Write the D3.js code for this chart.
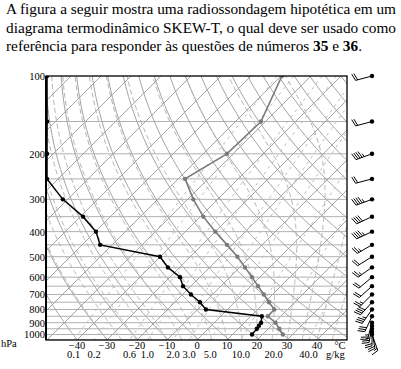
<!DOCTYPE html>
<html><head><meta charset="utf-8">
<script src="https://cdn.jsdelivr.net/npm/d3@7"></script>
<style>
body{margin:0;background:#fff}
svg{display:block}
svg text{font-family:"Liberation Serif","Times New Roman",serif}
</style>
</head><body>
<svg id="c" width="401" height="369"></svg>
<script>
// ---------------- data ----------------
const headerLines = [
  "A figura a seguir mostra uma radiossondagem hipotética em um",
  "diagrama termodinâmico SKEW-T, o qual deve ser usado como"
];
const pressureLevels = [100,150,200,250,300,350,400,450,500,550,600,650,700,750,800,850,900,925,950,1000];
const temperature   = [-59.7,-51.5,-52.1,-57.7,-48.1,-39.0,-30.0,-21.7,-14.3,-8.2,-2.6,2.4,7.1,11.4,15.6,15.7,20.4,null,23.7,26.8];
const dewpoint      = [-138,-122.8,-112.1,-103.7,-91.6,-79.1,-69.8,-64.0,-40.1,-33.9,-26.6,-22.6,-17.2,-11.6,-7.2,13.7,15.6,15.9,16.2,16.5];
const windLevels    = [100,150,200,250,300,350,400,450,500,550,600,650,700,750,800,850,900,925,950,975,1000];
const windDir       = [255,255,250,255,250,245,245,240,238,235,230,228,225,222,215,205,195,190,180,170,160];
const windSpeed     = [20,20,45,20,45,40,45,25,20,25,20,20,25,40,35,30,25,25,20,20,15];
const pressureTicks = [100,200,300,400,500,600,700,800,900,1000];
const tempTicks     = [-40,-30,-20,-10,0,10,20,30,40];
const mixingTicks   = [0.1,0.2,0.6,1.0,2.0,3.0,5.0,10.0,20.0,40.0];
const dryThetas     = d3.range(220, 520, 10);
const moistStarts   = d3.range(-30, 46, 5);

// ---------------- geometry ----------------
const svg = d3.select("#c");
const L = 46, R = 347, T = 76, B = 340;
const y = d3.scaleLog().domain([100, 1050]).range([T, B]);
const xBase = d3.scaleLinear().domain([-40, 40]).range([77, 317]);
const skew = 1;
const X = (t, p) => xBase(t) + skew * (B - y(p));

// header
const hdr = svg.append("g").attr("font-size", 15.3).attr("fill", "#000");
headerLines.forEach((s, i) => {
  hdr.append("text").attr("x", 6).attr("y", 14 + i * 18.5)
    .attr("textLength", 390).attr("lengthAdjust", "spacing").text(s);
});
const l3 = hdr.append("text").attr("x", 6).attr("y", 51);
l3.append("tspan").text("referência para responder às questões de números ");
l3.append("tspan").attr("font-weight", "bold").text("35");
l3.append("tspan").text(" e ");
l3.append("tspan").attr("font-weight", "bold").text("36");
l3.append("tspan").text(".");

svg.append("clipPath").attr("id", "plot").append("rect")
  .attr("x", L).attr("y", T).attr("width", R - L).attr("height", B - T);
const grid = svg.append("g").attr("clip-path", "url(#plot)").attr("fill", "none");

const pGrid = d3.range(100, 1051, 10);
const line = d3.line().x(d => X(d.t, d.p)).y(d => y(d.p));

// isobars
grid.selectAll(".isobar").data(d3.range(150, 1051, 50)).join("line")
  .attr("x1", L).attr("x2", R).attr("y1", d => y(d)).attr("y2", d => y(d))
  .attr("stroke", "#b0b0b0").attr("stroke-width", 1);

// isotherms
grid.selectAll(".isotherm").data(d3.range(-180, 60, 10)).join("path")
  .attr("d", t => line([{t, p: 1050}, {t, p: 100}]))
  .attr("stroke", "#a4a4a4").attr("stroke-width", 1);

// dry adiabats
grid.selectAll(".dry").data(dryThetas).join("path")
  .attr("d", th => line(pGrid.map(p => ({p, t: th * Math.pow(p / 1000, 0.2857) - 273.15}))))
  .attr("stroke", "#a4a4a4").attr("stroke-width", 1);

// moist adiabats
const Rd = 287.04, cp = 1005.7, Lv = 2.501e6;
function es(tc) { return 6.112 * Math.exp(17.67 * tc / (tc + 243.5)); }
function dTdp(p, Tk) {
  const e = es(Tk - 273.15), rs = 0.622 * e / (p - e);
  return (Rd * Tk + Lv * rs) / (p * (cp + Lv * Lv * rs * 0.622 / (Rd * Tk * Tk)));
}
function moist(t0) {
  const pts = [];
  let Tk = t0 + 273.15, p = 1050;
  const dp = -5;
  while (p >= 100) {
    pts.push({p, t: Tk - 273.15});
    const k1 = dTdp(p, Tk), k2 = dTdp(p + dp / 2, Tk + k1 * dp / 2),
          k3 = dTdp(p + dp / 2, Tk + k2 * dp / 2), k4 = dTdp(p + dp, Tk + k3 * dp);
    Tk += dp * (k1 + 2 * k2 + 2 * k3 + k4) / 6;
    p += dp;
  }
  return pts;
}
grid.selectAll(".moist").data(moistStarts).join("path")
  .attr("d", t0 => line(moist(t0)))
  .attr("stroke", "#b4b4b4").attr("stroke-width", 1).attr("stroke-dasharray", "5,3");

// mixing ratio lines
function tdOf(w, p) {
  const e = (w / 1000) * p / (0.622 + w / 1000);
  const lg = Math.log(e / 6.112);
  return 243.5 * lg / (17.67 - lg);
}
grid.selectAll(".mix").data(mixingTicks).join("path")
  .attr("d", w => line(pGrid.map(p => ({p, t: tdOf(w, p)}))))
  .attr("stroke", "#bdbdbd").attr("stroke-width", 1).attr("stroke-dasharray", "3,4");

// sounding
const tempPts = pressureLevels.map((p, i) => ({p, t: temperature[i]})).filter(d => d.t !== null);
const dewPts = pressureLevels.map((p, i) => ({p, t: dewpoint[i]}));
const snd = svg.append("g").attr("clip-path", "url(#plot)");
snd.append("path").attr("d", line(tempPts)).attr("fill", "none").attr("stroke", "#7a7a7a").attr("stroke-width", 1.6);
snd.selectAll(".tp").data(tempPts).join("circle")
  .attr("cx", d => X(d.t, d.p)).attr("cy", d => y(d.p)).attr("r", 2.2).attr("fill", "#7a7a7a");
const dewX = d => Math.max(L + 1, X(d.t, d.p));
snd.append("path").attr("d", d3.line().x(dewX).y(d => y(d.p))(dewPts))
  .attr("fill", "none").attr("stroke", "#000").attr("stroke-width", 1.5);
snd.selectAll(".dp").data(dewPts).join("circle")
  .attr("cx", dewX).attr("cy", d => y(d.p)).attr("r", 2.2).attr("fill", "#000");

// frame
svg.append("rect").attr("x", L).attr("y", T).attr("width", R - L).attr("height", B - T)
  .attr("fill", "none").attr("stroke", "#000").attr("stroke-width", 1.3);
svg.append("line").attr("x1", L).attr("x2", L).attr("y1", T).attr("y2", B).attr("stroke", "#000").attr("stroke-width", 2);

// pressure axis
const pa = svg.append("g").attr("transform", `translate(${L},0)`)
  .call(d3.axisLeft(y).tickValues(pressureTicks).tickSize(0).tickPadding(1).tickFormat(d3.format("d")));
pa.select(".domain").remove();
pa.attr("font-family", null);
pa.selectAll("text").attr("font-size", 10.5).attr("fill", "#000");

// bottom labels
const lab = svg.append("g").attr("font-size", 10.5).attr("fill", "#000");
lab.append("text").attr("x", 1).attr("y", 347).text("hPa");
lab.selectAll(".tt").data(tempTicks).join("text")
  .attr("x", d => xBase(d)).attr("y", 348.5).attr("text-anchor", "middle")
  .text(d => d < 0 ? "\u2212" + Math.abs(d) : String(d));
lab.append("text").attr("x", 340).attr("y", 348.5).attr("text-anchor", "middle").text("°C");
lab.selectAll(".mt").data(mixingTicks).join("text")
  .attr("x", w => X(tdOf(w, 1050), 1050)).attr("y", 357.5).attr("text-anchor", "middle")
  .text(w => w.toFixed(1));
lab.append("text").attr("x", 326).attr("y", 357.5).text("g/kg");

// wind barbs
const wb = svg.append("g").attr("stroke", "#000").attr("stroke-width", 1).attr("fill", "#000");
function barb(cx, cy, dir, spd) {
  const a = dir * Math.PI / 180;
  const ux = Math.sin(a), uy = -Math.cos(a);
  const px = -uy, py = ux;
  const len = 17, bl = 7, sp = 2.2, lean = 0.3;
  wb.append("line").attr("x1", cx).attr("y1", cy).attr("x2", cx + ux * len).attr("y2", cy + uy * len);
  let s = Math.round(spd / 5) * 5, pos = len;
  while (s >= 50) {
    const b0 = pos, b1 = pos - 2 * sp;
    const pts = [[cx + ux * b0, cy + uy * b0], [cx + ux * b0 + px * bl, cy + uy * b0 + py * bl], [cx + ux * b1, cy + uy * b1]];
    wb.append("polygon").attr("points", pts.map(q => q.join(",")).join(" "));
    pos -= 2 * sp + 1; s -= 50;
  }
  while (s >= 10) {
    wb.append("line").attr("x1", cx + ux * pos).attr("y1", cy + uy * pos)
      .attr("x2", cx + ux * (pos + lean * bl) + px * bl).attr("y2", cy + uy * (pos + lean * bl) + py * bl);
    pos -= sp; s -= 10;
  }
  if (s >= 5) {
    if (pos === len) pos -= sp;
    const h = bl / 2;
    wb.append("line").attr("x1", cx + ux * pos).attr("y1", cy + uy * pos)
      .attr("x2", cx + ux * (pos + lean * h) + px * h).attr("y2", cy + uy * (pos + lean * h) + py * h);
  }
  wb.append("circle").attr("cx", cx).attr("cy", cy).attr("r", 2.2).attr("stroke", "none");
}
windLevels.forEach((p, i) => barb(372, y(p), windDir[i], windSpeed[i]));
</script>
</body></html>
